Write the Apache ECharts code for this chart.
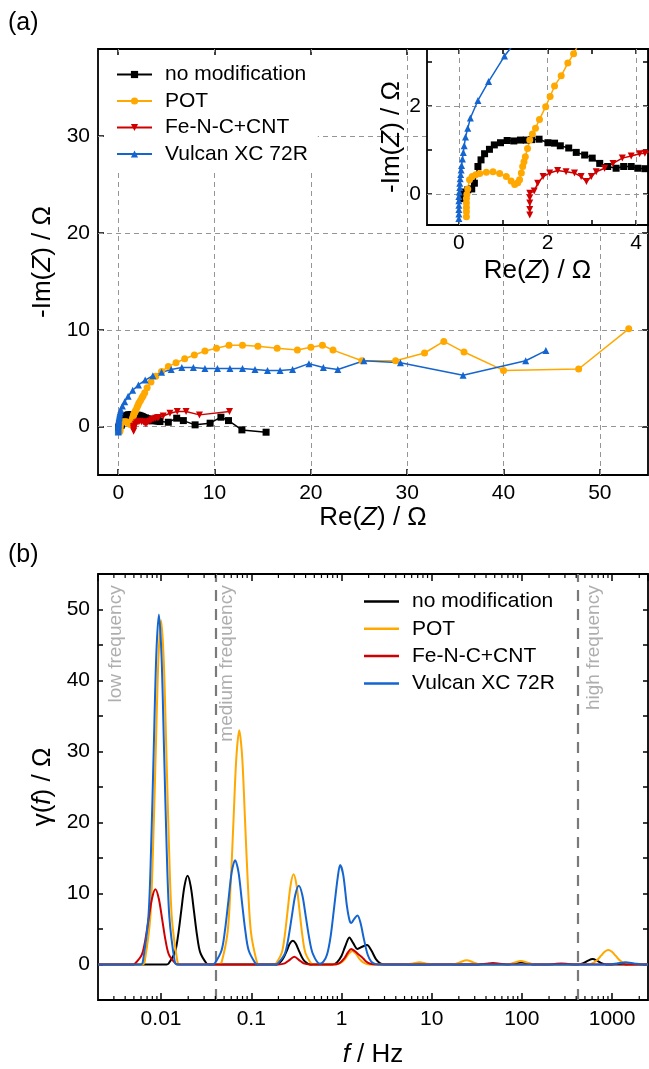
<!DOCTYPE html>
<html><head><meta charset="utf-8">
<script src="https://cdn.jsdelivr.net/npm/echarts@6/dist/echarts.min.js"></script>
<style>html,body{margin:0;padding:0;background:#fff}#c{width:649px;height:1069px}</style>
</head><body><div id="c"></div>
<script>
// ---------- data ----------
const seriesNames = ['no modification', 'POT', 'Fe-N-C+CNT', 'Vulcan XC 72R'];
const seriesColors = ['#000000', '#FFA800', '#D00000', '#1565D0'];
const seriesSymbols = ['rect', 'circle', 'triangle', 'triangle'];
const symbolRotations = [0, 0, 180, 0];

// Nyquist: [Re(Z), -Im(Z)]
const nyqNoMod = [[0.05,-0.1],[0.1,0.05],[0.2,0.1],[0.29,0.12],[0.35,0.25],[0.43,0.63],[0.5,0.78],[0.58,0.92],[0.69,1.02],[0.8,1.12],[0.94,1.17],[1.09,1.22],[1.24,1.21],[1.39,1.23],[1.52,1.23],[1.64,1.24],[1.81,1.25],[2.01,1.17],[2.16,1.16],[2.29,1.1],[2.48,1.05],[2.65,0.95],[2.84,0.89],[3.01,0.82],[3.18,0.7],[3.36,0.63],[3.55,0.59],[3.72,0.63],[3.89,0.63],[4.04,0.59],[4.2,0.58],[4.33,0.52],[5.2,0.45],[6.07,0.87],[6.76,0.62],[7.98,0.18],[9.54,0.35],[10.66,0.97],[11.45,0.62],[12.84,-0.34],[15.35,-0.58]];
const nyqPOT = [[0.17,-0.51],[0.17,-0.4],[0.17,-0.3],[0.17,-0.2],[0.17,-0.1],[0.18,0.0],[0.2,0.12],[0.24,0.33],[0.3,0.4],[0.38,0.44],[0.47,0.47],[0.62,0.5],[0.77,0.51],[0.92,0.47],[1.07,0.4],[1.18,0.3],[1.26,0.22],[1.33,0.26],[1.37,0.33],[1.41,0.48],[1.44,0.63],[1.47,0.74],[1.5,0.85],[1.55,1.04],[1.6,1.23],[1.66,1.37],[1.73,1.5],[1.82,1.7],[1.96,1.99],[2.06,2.22],[2.16,2.46],[2.31,2.69],[2.46,2.98],[2.59,3.19],[2.75,3.5],[3.0,4.0],[3.4,4.6],[3.9,5.2],[4.5,5.7],[5.2,6.2],[6.0,6.6],[6.9,7.0],[7.9,7.4],[9.0,7.8],[10.2,8.1],[11.5,8.4],[12.9,8.4],[14.5,8.3],[16.5,8.1],[18.6,7.9],[20.0,8.2],[21.2,8.4],[22.3,7.9],[25.3,6.8],[28.8,6.8],[31.8,7.6],[33.8,8.8],[35.9,7.7],[40.0,5.8],[47.8,5.95],[53.0,10.1]];
const nyqFeNC = [[1.6,-0.47],[1.6,-0.35],[1.6,-0.2],[1.6,-0.08],[1.6,0.02],[1.7,0.07],[1.78,0.25],[1.9,0.4],[2.05,0.48],[2.23,0.54],[2.42,0.51],[2.61,0.48],[2.76,0.4],[2.88,0.29],[2.99,0.4],[3.1,0.51],[3.29,0.59],[3.48,0.7],[3.69,0.82],[3.89,0.87],[4.08,0.92],[4.2,0.93],[4.67,1.1],[5.37,1.38],[6.13,1.55],[7.04,1.55],[8.43,1.21],[11.55,1.55]];
const nyqVulcan = [[0.0,-0.55],[0.0,-0.45],[0.0,-0.35],[0.0,-0.25],[0.0,-0.15],[0.0,-0.05],[0.01,0.05],[0.02,0.15],[0.02,0.25],[0.03,0.35],[0.04,0.45],[0.05,0.55],[0.06,0.65],[0.08,0.8],[0.1,0.95],[0.12,1.1],[0.15,1.3],[0.2,1.5],[0.26,1.73],[0.43,2.13],[0.67,2.56],[1.03,3.14],[1.5,3.75],[2.1,4.3],[2.8,4.8],[3.6,5.25],[4.5,5.6],[5.5,5.9],[6.6,6.1],[7.8,6.1],[9.0,6.0],[10.3,6.0],[11.6,6.0],[12.9,6.0],[14.2,5.9],[15.5,5.8],[16.8,5.8],[18.1,5.9],[19.8,6.5],[21.3,6.1],[22.8,5.9],[25.5,6.8],[29.3,6.6],[35.8,5.3],[42.3,6.8],[44.4,7.85]];

// DRT: [f (Hz), gamma (Ohm)]
const drtNoMod = [[0.002,0],[0.0115,0],[0.01213,0.14],[0.01426,1.7],[0.01545,4.1],[0.01675,7.6],[0.01816,11.0],[0.01968,12.5],[0.02133,11.0],[0.02312,7.6],[0.02506,4.1],[0.02716,1.7],[0.03192,0.14],[0.034,0],[0.19,0],[0.214,0.45],[0.231,1.1],[0.249,2.0],[0.268,2.95],[0.289,3.35],[0.311,2.95],[0.336,2.0],[0.362,1.1],[0.39,0.45],[0.45,0],[0.794,0],[0.891,0.3],[1.0,1.2],[1.096,2.5],[1.225,3.8],[1.349,3.0],[1.507,2.2],[1.698,2.5],[1.919,2.74],[2.138,2.0],[2.399,0.8],[2.692,0.15],[3.02,0],[70,0],[84,0.15],[98,0.3],[115,0.15],[135,0],[420,0],[480,0.2],[540,0.55],[607,0.77],[680,0.55],[760,0.2],[860,0],[2500,0]];
const drtPOT = [[0.002,0],[0.0063,0],[0.006607,0.5],[0.007586,6.5],[0.008128,15.8],[0.00871,29.4],[0.009333,42.8],[0.01,48.5],[0.010715,42.8],[0.01148,29.4],[0.0123,15.8],[0.01318,6.5],[0.01514,0.5],[0.016,0],[0.044,0],[0.047,0.36],[0.0546,4.5],[0.0588,10.7],[0.0634,20.0],[0.0683,29.1],[0.0736,33.0],[0.0794,29.1],[0.0855,20.0],[0.0922,10.7],[0.0993,4.5],[0.1153,0.36],[0.122,0],[0.178,0],[0.188,0.14],[0.2183,1.7],[0.2352,4.1],[0.2535,7.7],[0.2732,11.2],[0.2944,12.7],[0.3173,11.2],[0.342,7.7],[0.3685,4.1],[0.3972,1.7],[0.4613,0.14],[0.49,0],[0.85,0],[1.0,0.3],[1.1,0.8],[1.2,1.5],[1.32,1.9],[1.45,1.5],[1.58,0.8],[1.74,0.3],[2.05,0],[5.0,0],[6.2,0.15],[7.3,0.3],[8.6,0.15],[10.5,0],[17,0],[20.5,0.3],[24.4,0.6],[29,0.3],[35,0],[68,0],[82,0.25],[97.5,0.5],[116,0.25],[140,0],[560,0],[628,0.28],[689,0.66],[755,1.24],[828,1.8],[908,2.04],[995,1.8],[1092,1.24],[1197,0.66],[1312,0.28],[1480,0.05],[1700,0],[2500,0]];
const drtFeNC = [[0.002,0],[0.0049,0],[0.00515,0.12],[0.00612,1.4],[0.00668,3.4],[0.00728,6.4],[0.00794,9.3],[0.00865,10.6],[0.00943,9.3],[0.01028,6.4],[0.01121,3.4],[0.01222,1.4],[0.01452,0.12],[0.0155,0],[0.2,0],[0.235,0.15],[0.26,0.55],[0.3,1.1],[0.345,0.55],[0.38,0.15],[0.45,0],[0.8,0],[0.95,0.2],[1.08,0.9],[1.18,1.7],[1.28,2.2],[1.4,1.9],[1.55,1.4],[1.7,1.0],[1.85,0.5],[2.05,0.15],[2.4,0],[33,0],[40,0.1],[47.7,0.2],[57,0.1],[68,0],[190,0],[230,0.08],[272,0.15],[325,0.08],[390,0],[950,0],[1200,0.15],[1500,0],[2500,0]];
const drtVulcan = [[0.002,0],[0.006,0],[0.00631,0.5],[0.00724,6.7],[0.00774,16.0],[0.00828,29.9],[0.00885,43.5],[0.00946,49.3],[0.01012,43.5],[0.01081,29.9],[0.01156,16.0],[0.01236,6.7],[0.01413,0.5],[0.015,0],[0.037,0],[0.03945,0.16],[0.04688,2.0],[0.0511,4.8],[0.0557,8.9],[0.0607,13.0],[0.0662,14.7],[0.0722,13.0],[0.0787,8.9],[0.0858,4.8],[0.0935,2.0],[0.1112,0.16],[0.118,0],[0.185,0],[0.1963,0.12],[0.235,1.5],[0.257,3.6],[0.281,6.7],[0.3076,9.8],[0.3365,11.1],[0.368,9.8],[0.4027,6.7],[0.4406,3.6],[0.482,1.5],[0.577,0.1],[0.631,0.4],[0.692,1.4],[0.759,4.0],[0.832,8.2],[0.912,12.4],[0.966,14.0],[1.047,12.6],[1.148,8.3],[1.23,6.2],[1.288,5.85],[1.38,6.4],[1.507,6.9],[1.622,5.9],[1.778,3.5],[1.95,1.4],[2.138,0.4],[2.399,0.05],[2.8,0],[900,0],[1150,0.15],[1400,0.3],[1750,0.15],[2200,0],[2500,0]];

// ticks / labels
const nyqXTicks = [0, 10, 20, 30, 40, 50];
const nyqYTicks = [0, 10, 20, 30];
const insetXLabels = [0, 2, 4];
const insetXTicks = [0, 1, 2, 3, 4];
const insetYLabels = [0, 2];
const insetYTicks = [0, 1, 2, 3];
const drtDecades = [0.001, 0.01, 0.1, 1, 10, 100, 1000];
const drtMinorMult = [2, 3, 4, 5, 6, 7, 8, 9];
const regionBounds = [0.0367, 419];
const regionNames = ['low frequency', 'medium frequency', 'high frequency'];
const regionLabelFreq = [0.00316, 0.0538, 630];
const regionLabelTop = 53.4;

// ---------- chart ----------
const FONT = "'Liberation Sans', Arial, Helvetica, sans-serif";
const TICK_FS = 21, NAME_FS = 26, LEG_FS = 21;
const nameStyle = () => ({ fontSize: NAME_FS, fontFamily: FONT, color: '#000',
  rich: { i: { fontSize: NAME_FS, fontFamily: FONT, fontStyle: 'italic', color: '#000' } } });
const tickLine = { color: '#000', width: 1.5 };
const gridLineStyle = { color: '#959595', width: 1, type: [5, 4] };
const noLine = { show: false, onZero: false };

const drtMin = 0.002, drtMax = 2500, drtYMin = -5, drtYMax = 55;
const minorTicks = [];
drtDecades.forEach(d => drtMinorMult.forEach(m => { const v = +(d * m).toPrecision(6); if (v > drtMin && v < drtMax) minorTicks.push([v, 0]); }));

function valueAxis(o) {
  return Object.assign({
    type: 'value', axisLine: noLine, splitLine: { show: false },
    axisTick: { inside: true, length: 6, lineStyle: tickLine },
    axisLabel: { show: false }
  }, o);
}

const chart = echarts.init(document.getElementById('c'), null, { renderer: 'canvas' });

const xAxes = [
  valueAxis({ gridIndex: 0, min: -2.1, max: 55, position: 'bottom',
    axisTick: { inside: true, length: 6, customValues: nyqXTicks, lineStyle: tickLine },
    axisLabel: { show: true, customValues: nyqXTicks, fontSize: TICK_FS, fontFamily: FONT, color: '#000', margin: 8 },
    name: 'Re({i|Z}) / Ω', nameLocation: 'middle', nameGap: 29, nameTextStyle: nameStyle() }),
  valueAxis({ gridIndex: 0, min: -2.1, max: 55, position: 'top',
    axisTick: { inside: true, length: 6, customValues: nyqXTicks, lineStyle: tickLine } }),
  valueAxis({ gridIndex: 1, min: -0.72, max: 4.27, position: 'bottom', zlevel: 1,
    axisTick: { inside: true, length: 5, customValues: insetXTicks, lineStyle: tickLine },
    axisLabel: { show: true, customValues: insetXLabels, fontSize: TICK_FS, fontFamily: FONT, color: '#000', margin: 8 },
    name: 'Re({i|Z}) / Ω', nameLocation: 'middle', nameGap: 33, nameTextStyle: nameStyle() }),
  valueAxis({ gridIndex: 1, min: -0.72, max: 4.27, position: 'top', zlevel: 1,
    axisTick: { inside: true, length: 5, customValues: insetXTicks, lineStyle: tickLine } }),
  { gridIndex: 2, type: 'log', logBase: 10, min: drtMin, max: drtMax, position: 'bottom', splitNumber: 6,
    axisLine: noLine, splitLine: { show: false },
    axisTick: { inside: true, length: 7, lineStyle: tickLine },
    axisLabel: { fontSize: TICK_FS, fontFamily: FONT, color: '#000', margin: 9, showMinLabel: false, showMaxLabel: false,
      formatter: v => String(parseFloat((+v).toPrecision(6))) },
    name: '{i|f} / Hz', nameLocation: 'middle', nameGap: 42, nameTextStyle: nameStyle() },
  { gridIndex: 2, type: 'log', logBase: 10, min: drtMin, max: drtMax, position: 'top', splitNumber: 6,
    axisLine: noLine, splitLine: { show: false },
    axisTick: { inside: true, length: 7, lineStyle: tickLine }, axisLabel: { show: false } }
];

const yAxes = [
  valueAxis({ gridIndex: 0, min: -5, max: 39, position: 'left',
    axisTick: { inside: true, length: 6, customValues: nyqYTicks, lineStyle: tickLine },
    axisLabel: { show: true, customValues: nyqYTicks, fontSize: TICK_FS, fontFamily: FONT, color: '#000', margin: 8 },
    name: '-Im({i|Z}) / Ω', nameLocation: 'middle', nameGap: 31, nameTextStyle: nameStyle() }),
  valueAxis({ gridIndex: 0, min: -5, max: 39, position: 'right',
    axisTick: { inside: true, length: 6, customValues: nyqYTicks, lineStyle: tickLine } }),
  valueAxis({ gridIndex: 1, min: -0.7, max: 3.3, position: 'left', zlevel: 1,
    axisTick: { inside: true, length: 5, customValues: insetYTicks, lineStyle: tickLine },
    axisLabel: { show: true, customValues: insetYLabels, fontSize: TICK_FS, fontFamily: FONT, color: '#000', margin: 6 },
    name: '-Im({i|Z}) / Ω', nameLocation: 'middle', nameGap: 22, nameTextStyle: nameStyle() }),
  valueAxis({ gridIndex: 1, min: -0.7, max: 3.3, position: 'right', zlevel: 1,
    axisTick: { inside: true, length: 5, customValues: insetYTicks, lineStyle: tickLine } }),
  valueAxis({ gridIndex: 2, min: drtYMin, max: drtYMax, interval: 5, position: 'left',
    axisTick: { inside: true, length: 5, lineStyle: tickLine },
    axisLabel: { show: true, fontSize: TICK_FS, fontFamily: FONT, color: '#000', margin: 8,
      formatter: v => (v % 10 === 0 && v >= 0 && v <= 50) ? String(v) : '' },
    name: 'γ({i|f}) / Ω', nameLocation: 'middle', nameGap: 31, nameTextStyle: nameStyle() }),
  valueAxis({ gridIndex: 2, min: drtYMin, max: drtYMax, interval: 5, position: 'right',
    axisTick: { inside: true, length: 5, lineStyle: tickLine } })
];

const nyqData = [nyqNoMod, nyqPOT, nyqFeNC, nyqVulcan];
const drtData = [drtNoMod, drtPOT, drtFeNC, drtVulcan];

const series = [];
// main Nyquist
nyqData.forEach((d, i) => {
  const s = {
    name: seriesNames[i], type: 'line', xAxisIndex: 0, yAxisIndex: 0, data: d,
    symbol: seriesSymbols[i], symbolSize: 7, symbolRotate: symbolRotations[i],
    lineStyle: { color: seriesColors[i], width: 1.5 }, itemStyle: { color: seriesColors[i] },
    clip: true, z: 3
  };
  if (i === 0) s.markLine = { silent: true, symbol: ['none', 'none'], label: { show: false }, z: 1,
    lineStyle: gridLineStyle, animation: false,
    data: nyqXTicks.map(v => ({ xAxis: v })).concat(nyqYTicks.map(v => ({ yAxis: v }))) };
  series.push(s);
});
// inset Nyquist
nyqData.forEach((d, i) => {
  const s = {
    name: seriesNames[i], type: 'line', xAxisIndex: 2, yAxisIndex: 2, data: d, zlevel: 1,
    symbol: seriesSymbols[i], symbolSize: 7, symbolRotate: symbolRotations[i],
    lineStyle: { color: seriesColors[i], width: 1.5 }, itemStyle: { color: seriesColors[i] },
    clip: true, z: 3
  };
  if (i === 0) s.markLine = { silent: true, symbol: ['none', 'none'], label: { show: false }, z: 1, zlevel: 1,
    lineStyle: gridLineStyle, animation: false,
    data: insetXLabels.map(v => ({ xAxis: v })).concat(insetYLabels.map(v => ({ yAxis: v }))) };
  series.push(s);
});
// DRT
drtData.forEach((d, i) => {
  series.push({
    name: seriesNames[i], type: 'line', xAxisIndex: 4, yAxisIndex: 4, data: d,
    symbol: 'none', smooth: 0.3, lineStyle: { color: seriesColors[i], width: 2 },
    itemStyle: { color: seriesColors[i] }, clip: true, z: 3
  });
});
// region dividers and labels
series.push({
  type: 'scatter', xAxisIndex: 4, yAxisIndex: 4, silent: true,
  data: regionLabelFreq.map((f, i) => ({ value: [f, regionLabelTop], name: regionNames[i] })),
  symbolSize: 1, itemStyle: { color: 'rgba(0,0,0,0)' },
  label: { show: true, position: 'inside', formatter: p => p.name, rotate: 90, align: 'right', verticalAlign: 'middle',
    fontSize: 19, fontFamily: FONT, color: '#9a9a9a' },
  markLine: { silent: true, symbol: ['none', 'none'], label: { show: false }, z: 1,
    lineStyle: { color: '#7a7a7a', width: 2.2, type: [11, 8] }, animation: false,
    data: regionBounds.map(v => ({ xAxis: v })) }
});
// minor log ticks (bottom & top)
series.push({
  type: 'custom', xAxisIndex: 4, yAxisIndex: 4, silent: true, data: minorTicks,
  encode: { x: 0, y: 1 }, clip: false,
  renderItem: (params, api) => {
    const f = api.value(0);
    const b = api.coord([f, drtYMin]);
    const t = api.coord([f, drtYMax]);
    return { type: 'group', children: [
      { type: 'line', shape: { x1: b[0], y1: b[1], x2: b[0], y2: b[1] - 4 }, style: { stroke: '#000', lineWidth: 1.2 } },
      { type: 'line', shape: { x1: t[0], y1: t[1], x2: t[0], y2: t[1] + 4 }, style: { stroke: '#000', lineWidth: 1.2 } }
    ] };
  }
});

chart.setOption({
  animation: false,
  backgroundColor: '#fff',
  title: [
    { text: '(a)', left: 3, top: 6, textStyle: { fontSize: 25, fontWeight: 'normal', fontFamily: FONT, color: '#000' } },
    { text: '(b)', left: 3, top: 538, textStyle: { fontSize: 25, fontWeight: 'normal', fontFamily: FONT, color: '#000' } }
  ],
  grid: [
    { left: 98, top: 49, width: 550, height: 426, show: true, borderColor: '#000', borderWidth: 1.8, backgroundColor: 'rgba(0,0,0,0)' },
    { left: 427, top: 49, width: 221, height: 176, show: true, borderColor: '#000', borderWidth: 1.8, backgroundColor: '#fff', zlevel: 1 },
    { left: 98, top: 574, width: 550, height: 426, show: true, borderColor: '#000', borderWidth: 1.8, backgroundColor: 'rgba(0,0,0,0)' }
  ],
  legend: [
    { data: seriesNames, orient: 'vertical', left: 104, top: 56, padding: [8, 10, 8, 12], backgroundColor: '#fff',
      itemWidth: 35, itemHeight: 9, itemGap: 5.5, selectedMode: false, symbolRotate: 'inherit',
      textStyle: { fontSize: LEG_FS, fontFamily: FONT, color: '#000', lineHeight: 21, padding: [0, 0, 0, 8] } },
    { data: seriesNames, orient: 'vertical', left: 364, top: 591, padding: 0, icon: 'rect',
      itemWidth: 35, itemHeight: 2.5, itemGap: 6.3, selectedMode: false,
      textStyle: { fontSize: LEG_FS, fontFamily: FONT, color: '#000', lineHeight: 21, padding: [0, 0, 0, 8] } }
  ],
  xAxis: xAxes,
  yAxis: yAxes,
  series: series
});
</script>
</body></html>
